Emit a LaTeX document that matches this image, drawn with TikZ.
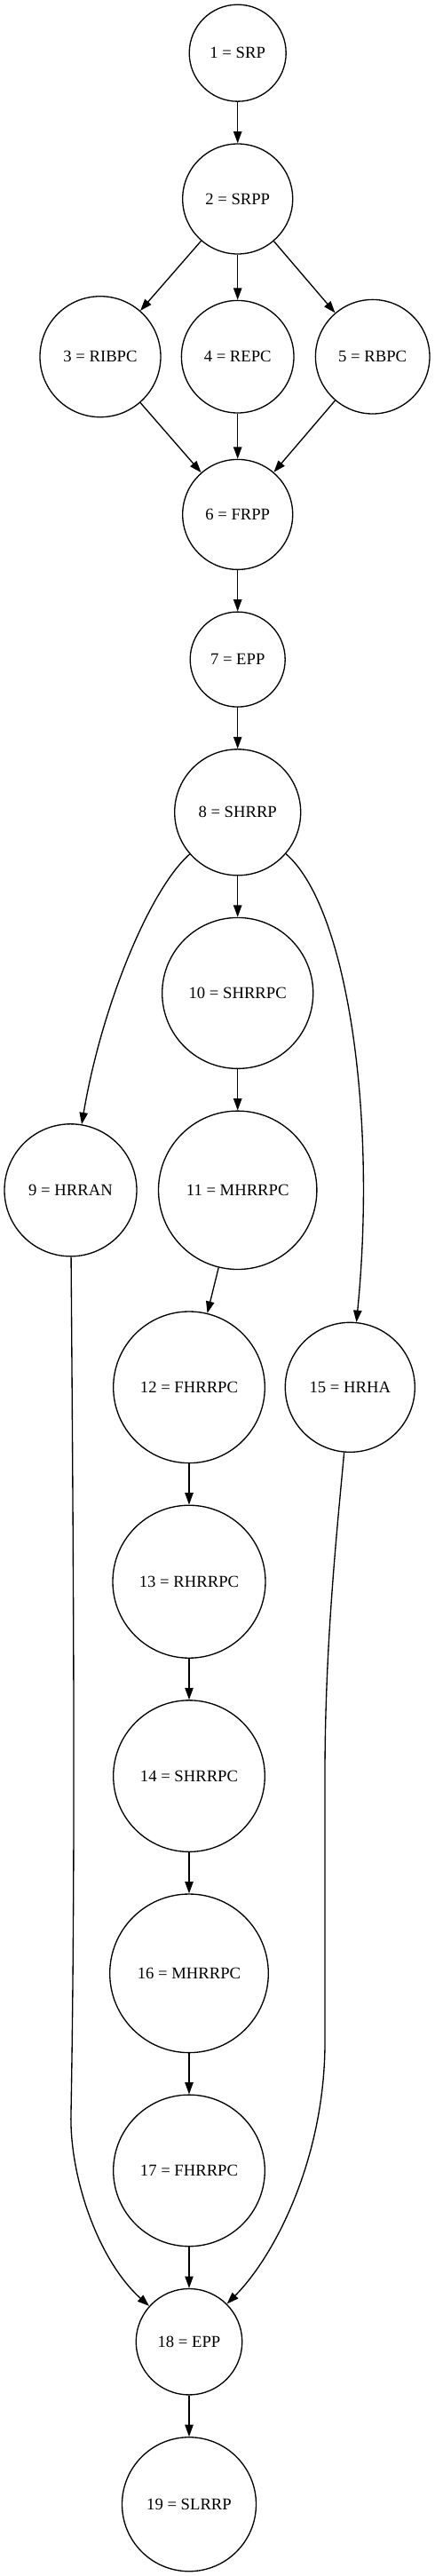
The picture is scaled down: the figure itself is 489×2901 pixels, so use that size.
\documentclass[tikz,border=0pt]{standalone}
\usepackage{fontspec}
\setmainfont{Liberation Serif}
\usetikzlibrary{arrows.meta}

\begin{document}
\begin{tikzpicture}[x=0.75pt, y=-0.75pt,
    state/.style={draw, circle, line width=1pt, inner sep=0pt, minimum size=#1*1.5pt, font=\fontsize{14pt}{16pt}\selectfont},
    edge/.style={line width=1pt, -{Triangle[length=10pt,width=7pt]}}]
    \useasboundingbox (0,0) rectangle (489,2901);
    \def \colA {267.7}
    \def \colB {213}
    \node[state=54.5] (n1) at (\colA,59.7) {1 = SRP};
    \node[state=62] (n2) at (\colA,224) {2 = SRPP};
    \node[state=68] (n3) at (113,401.7) {3 = RIBPC};
    \node[state=63.3] (n4) at (\colA,401.7) {4 = REPC};
    \node[state=64.3] (n5) at (419.7,401.7) {5 = RBPC};
    \node[state=62] (n6) at (\colA,579.4) {6 = FRPP};
    \node[state=53.5] (n7) at (\colA,742.6) {7 = EPP};
    \node[state=71] (n8) at (\colA,914.8) {8 = SHRRP};
    \node[state=85] (n10) at (\colA,1118.4) {10 = SHRRPC};
    \node[state=74.5] (n9) at (79.5,1340.3) {9 = HRRAN};
    \node[state=89.2] (n11) at (\colA,1340.3) {11 = MHRRPC};
    \node[state=85.3] (n12) at (\colB,1562.3) {12 = FHRRPC};
    \node[state=73] (n15) at (394.3,1562.3) {15 = HRHA};
    \node[state=86] (n13) at (\colB,1781.2) {13 = RHRRPC};
    \node[state=85.3] (n14) at (\colB,2000.1) {14 = SHRRPC};
    \node[state=89.3] (n16) at (\colB,2222.3) {16 = MHRRPC};
    \node[state=85.3] (n17) at (\colB,2444.4) {17 = FHRRPC};
    \node[state=59.7] (n18) at (\colB,2637.2) {18 = EPP};
    \node[state=75.5] (n19) at (\colB,2820.2) {19 = SLRRP};
    \draw[edge] (n1) -- (n2);
    \draw[edge] (n2) -- (n3);
    \draw[edge] (n2) -- (n4);
    \draw[edge] (n2) -- (n5);
    \draw[edge] (n3) -- (n6);
    \draw[edge] (n4) -- (n6);
    \draw[edge] (n5) -- (n6);
    \draw[edge] (n6) -- (n7);
    \draw[edge] (n7) -- (n8);
    \draw[edge] (n8) -- (n10);
    \draw[edge] (n8) .. controls (170,1000) and (115,1130) .. (n9);
    \draw[edge] (n8) .. controls (390,1020) and (425,1250) .. (n15);
    \draw[edge] (n10) -- (n11);
    \draw[edge] (n11) -- (n12);
    \draw[edge] (n12) -- (n13);
    \draw[edge] (n13) -- (n14);
    \draw[edge] (n14) -- (n16);
    \draw[edge] (n16) -- (n17);
    \draw[edge] (n17) -- (n18);
    \draw[edge] (n18) -- (n19);
    \draw[edge] (n9) .. controls (83,1800) and (85,2100) .. (80,2380) .. controls (78,2450) and (110,2545) .. (n18);
    \draw[edge] (n15) .. controls (380,1720) and (366,1850) .. (366,2000) -- (366,2300) .. controls (366,2430) and (310,2540) .. (n18);
\end{tikzpicture}
\end{document}
